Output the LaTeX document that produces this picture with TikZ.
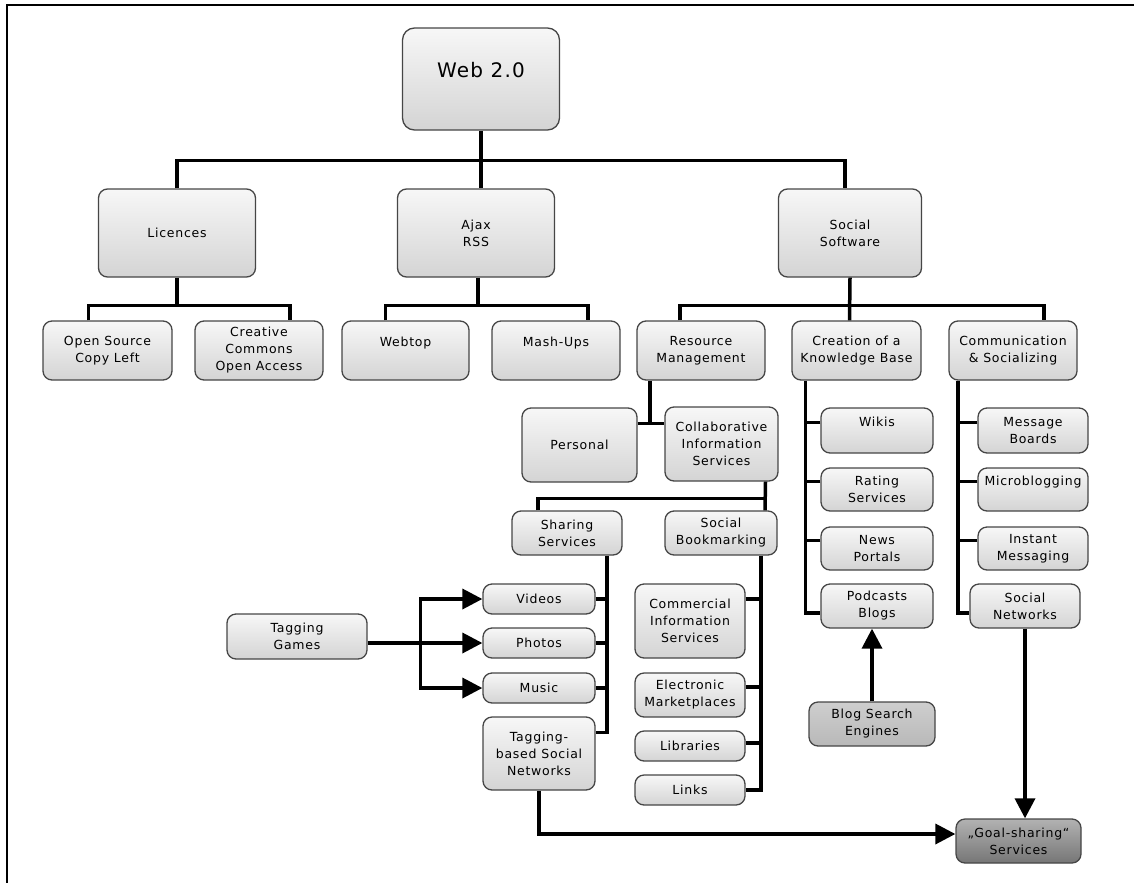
\documentclass[tikz,border=0pt]{standalone}
\usepackage{fontspec}
\setmainfont{DejaVu Sans}
\newfontfamily\boxfont[LetterSpace=6]{DejaVu Sans}
\usetikzlibrary{arrows.meta,calc}
\definecolor{boxline}{RGB}{70,70,70}
\definecolor{boxtop}{RGB}{247,247,247}
\definecolor{boxbot}{RGB}{212,212,212}
\definecolor{darktop}{RGB}{206,206,206}
\definecolor{darkbot}{RGB}{184,184,184}
\definecolor{goaltop}{RGB}{178,178,178}
\definecolor{goalbot}{RGB}{118,118,118}

\begin{document}
\begin{tikzpicture}[x=1pt, y=-1pt,
  font=\boxfont\fontsize{12.5}{17}\selectfont, >={Triangle[length=20pt,width=20pt]},
  box/.style={draw=boxline, line width=1.3pt, rounded corners=9pt, top color=boxtop, bottom color=boxbot, align=center, inner sep=2pt, text=black},
  dark/.style={box, top color=darktop, bottom color=darkbot},
  goal/.style={box, top color=goaltop, bottom color=goalbot},
  bus/.style={line width=3.5pt},
  arr/.style={line width=3.5pt, ->}]
  \useasboundingbox (0,0) rectangle (1134,883);
  \draw[line width=2.5pt] (1134,5) -- (7,5) -- (7,883);

  % top levels
  \node[box, minimum width=157pt, minimum height=102pt, rounded corners=12pt, font=\boxfont\fontsize{20}{24}\selectfont] (web) at (481,79) {Web 2.0\\[-6pt]\mbox{}};
  \node[box, minimum width=157pt, minimum height=88pt] (lic) at (177,233) {Licences};
  \node[box, minimum width=157pt, minimum height=88pt] (ajax) at (476,233) {Ajax\\RSS};
  \node[box, minimum width=143pt, minimum height=88pt] (soc) at (850,233) {Social\\Software};

  \node[box, minimum width=129pt, minimum height=59pt] (os) at (107.5,350.5) {Open Source\\Copy Left};
  \node[box, minimum width=128pt, minimum height=59pt] (cc) at (259,350.5) {Creative\\Commons\\Open Access};
  \node[box, minimum width=127pt, minimum height=59pt] (webtop) at (405.5,350.5) {Webtop\\\mbox{}};
  \node[box, minimum width=128pt, minimum height=59pt] (mash) at (556,350.5) {Mash-Ups\\\mbox{}};
  \node[box, minimum width=128pt, minimum height=59pt] (res) at (701,350.5) {Resource\\Management};
  \node[box, minimum width=129pt, minimum height=59pt] (crea) at (856.5,350.5) {Creation of a\\Knowledge Base};
  \node[box, minimum width=128pt, minimum height=59pt] (comm) at (1013,350.5) {Communication\\\& Socializing};

  % resource management
  \node[box, minimum width=115pt, minimum height=74pt] (pers) at (579.5,445) {Personal};
  \node[box, minimum width=113pt, minimum height=74pt] (collab) at (721.5,444) {Collaborative\\Information\\Services};
  \node[box, minimum width=110pt, minimum height=44pt] (share) at (567,533) {Sharing\\Services};
  \node[box, minimum width=112pt, minimum height=44pt] (bookm) at (721,533) {Social\\Bookmarking};
  \node[box, minimum width=112pt, minimum height=30pt] (videos) at (539,599) {Videos};
  \node[box, minimum width=112pt, minimum height=30pt] (photos) at (539,643) {Photos};
  \node[box, minimum width=112pt, minimum height=30pt] (music) at (539,688) {Music};
  \node[box, minimum width=112pt, minimum height=73pt] (tagsn) at (539,753.5) {Tagging-\\based Social\\Networks};
  \node[box, minimum width=140pt, minimum height=45pt] (tgames) at (297,636.5) {Tagging\\Games};
  \node[box, minimum width=110pt, minimum height=74pt] (commerc) at (690,621) {Commercial\\Information\\Services};
  \node[box, minimum width=110pt, minimum height=44pt] (emarket) at (690,695) {Electronic\\Marketplaces};
  \node[box, minimum width=110pt, minimum height=30pt] (libr) at (690,746) {Libraries};
  \node[box, minimum width=110pt, minimum height=30pt] (links) at (690,790) {Links};

  % knowledge base
  \node[box, minimum width=112pt, minimum height=45pt] (wikis) at (877,430.5) {Wikis\\\mbox{}};
  \node[box, minimum width=112pt, minimum height=43pt] (rating) at (877,489.5) {Rating\\Services};
  \node[box, minimum width=112pt, minimum height=43pt] (news) at (877,548.5) {News\\Portals};
  \node[box, minimum width=112pt, minimum height=44pt] (podc) at (877,606) {Podcasts\\Blogs};
  \node[dark, minimum width=126pt, minimum height=44pt] (blogse) at (872,724) {Blog Search\\Engines};

  % communication
  \node[box, minimum width=110pt, minimum height=45pt] (msg) at (1033,430.5) {Message\\Boards};
  \node[box, minimum width=110pt, minimum height=43pt] (micro) at (1033,489.5) {Microblogging\\\mbox{}};
  \node[box, minimum width=110pt, minimum height=43pt] (im) at (1033,548.5) {Instant\\Messaging};
  \node[box, minimum width=110pt, minimum height=44pt] (socnet) at (1025,606) {Social\\Networks};
  \node[goal, minimum width=125pt, minimum height=44pt] (goal) at (1018.5,841) {„Goal-sharing“\\Services};

  % tree lines
  \draw[bus] (web.south) -- ++(0,30) coordinate (b0);
  \draw[bus] (b0) -- (b0 |- ajax.north);
  \draw[bus] (lic.north) |- (b0) -| ([xshift=-5pt]soc.north);
  \draw[bus] (lic.south) -- ++(0,28) coordinate (b1);
  \draw[bus] ([xshift=-19pt]os.north) |- (b1) -| ([xshift=31pt]cc.north);
  \draw[bus] ([xshift=2pt]ajax.south) -- ++(0,28) coordinate (b2);
  \draw[bus] ([xshift=-20pt]webtop.north) |- (b2) -| ([xshift=32pt]mash.north);
  \draw[bus] (soc.south) -- ([xshift=-7pt]crea.north);
  \path (soc.south) ++(0,28) coordinate (b3);
  \draw[bus] ([xshift=-21pt]res.north) |- (b3) -| ([xshift=31pt]comm.north);
  \draw[bus] ([xshift=-51pt]res.south) -- ++(0,43) coordinate (b4);
  \draw[bus] (pers.east |- b4) -- (collab.west |- b4);
  \draw[bus] ([xshift=44pt]collab.south) -- ([xshift=44pt]bookm.north);
  \path ([xshift=44pt]collab.south) ++(0,17) coordinate (b5);
  \draw[bus] ([xshift=-29pt]share.north) |- (b5);

  \draw[bus] ([xshift=40pt]share.south) coordinate (sv) |- ([yshift=21pt]tagsn.east);
  \foreach \n in {videos,photos,music}
    \draw[bus] (\n.east) -- (\n.east -| sv);
  \draw[bus] ([xshift=40pt]bookm.south) coordinate (bv) |- (links.east);
  \draw[bus] ([yshift=22pt]commerc.east) -- ([yshift=22pt]commerc.east -| bv);
  \draw[bus] ([yshift=8pt]emarket.east) -- ([yshift=8pt]emarket.east -| bv);
  \draw[bus] ([yshift=3pt]libr.east) -- ([yshift=3pt]libr.east -| bv);
  \draw[bus] ([xshift=-51pt]crea.south) coordinate (cv) |- ([yshift=-7pt]podc.west);
  \foreach \n in {wikis,rating,news}
    \draw[bus] ([yshift=8pt]\n.west) -- ([yshift=8pt]\n.west -| cv);
  \draw[bus] ([xshift=-55pt]comm.south) coordinate (mv) |- ([yshift=-7pt]socnet.west);
  \foreach \n in {msg,micro,im}
    \draw[bus] ([yshift=8pt]\n.west) -- ([yshift=8pt]\n.west -| mv);

  % arrows
  \draw[arr] (blogse.north) -- (blogse.north |- podc.south);
  \draw[arr] (socnet.south) -- (socnet.south |- goal.north);
  \draw[arr] (tagsn.south) |- ([yshift=7pt]goal.west);
  \draw[arr] (tgames.east |- photos.west) -- (photos.west);
  \coordinate (fork) at ([xshift=53pt]tgames.east |- photos.west);
  \draw[arr] (fork) |- (videos.west);
  \draw[arr] (fork) |- (music.west);
\end{tikzpicture}
\end{document}
